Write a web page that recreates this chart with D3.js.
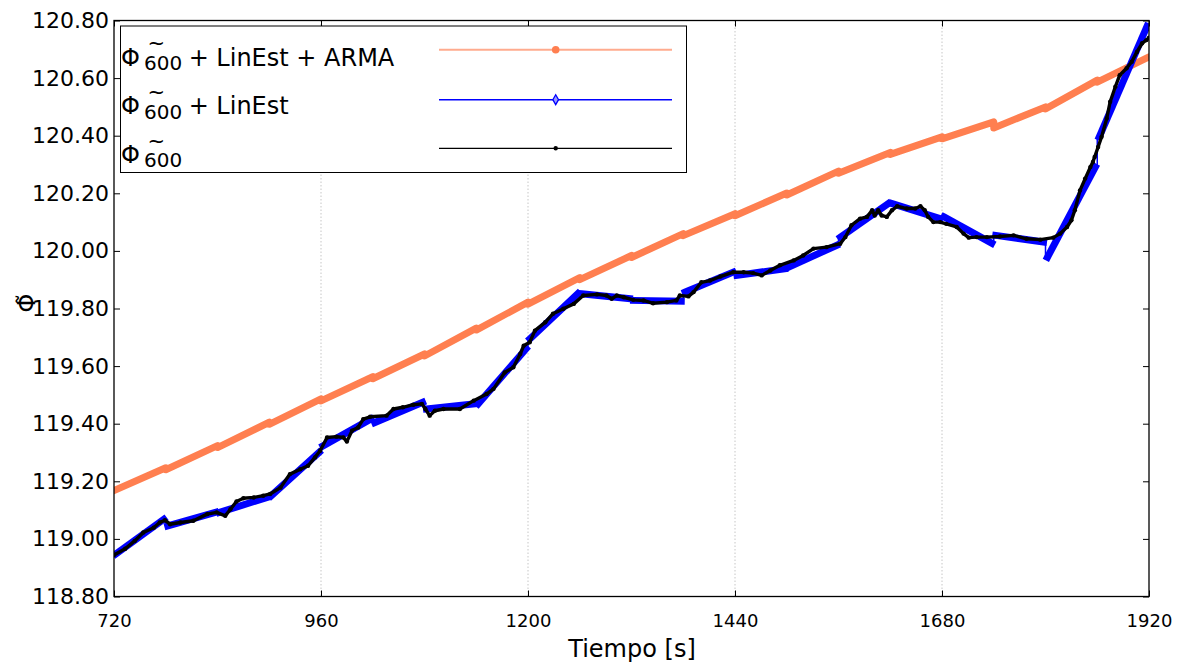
<!DOCTYPE html>
<html lang="en">
<head>
<meta charset="UTF-8">
<title>Phi 600</title>
<script src="https://d3js.org/d3.v7.min.js"></script>
<style>
  body { margin: 0; background: #fff; }
  svg { font-family: "DejaVu Sans", sans-serif; }
  .grid { stroke: #b8b8b8; stroke-width: 0.8; stroke-dasharray: 1.5,2; }
  .tick line { stroke: #000; stroke-width: 1; }
</style>
</head>
<body>
<svg width="1186" height="668"></svg>
<script>
// 60 s windows
const segBounds = [720, 780, 840, 900, 960, 1020, 1080, 1140, 1200, 1260, 1320,
                   1380, 1440, 1500, 1560, 1620, 1680, 1740, 1800, 1860, 1920];

// Phi600 + LinEst + ARMA (value at start / end of each window)
const armaStart = [119.168, 119.240, 119.317, 119.398, 119.479, 119.556, 119.635,
                   119.725, 119.815, 119.900, 119.977, 120.053, 120.122, 120.194,
                   120.270, 120.335, 120.389, 120.427, 120.493, 120.586];
const armaEnd = [119.247, 119.324, 119.405, 119.486, 119.563, 119.642, 119.732,
                 119.822, 119.907, 119.984, 120.060, 120.129, 120.201, 120.277,
                 120.342, 120.396, 120.448, 120.500, 120.593, 120.674];

// Phi600 + LinEst
const linStart = [118.948, 119.045, 119.092, 119.150, 119.323, 119.404, 119.451,
                  119.469, 119.695, 119.851, 119.828, 119.857, 119.915, 119.944,
                  120.048, 120.164, 120.118, 120.054, 119.978, 120.396];
const linEnd = [119.068, 119.092, 119.144, 119.300, 119.416, 119.474, 119.469,
                119.660, 119.851, 119.834, 119.825, 119.926, 119.938, 120.019,
                120.164, 120.112, 120.027, 120.031, 120.291, 120.780];

// Phi600
const phiTime = [720, 733, 744, 754, 766, 773, 779, 785, 797, 812, 828, 839, 849, 855,
  862, 870, 882, 893, 901, 913, 924, 936, 945, 953, 959, 967, 978, 986, 990, 996,
  1003, 1009, 1017, 1036, 1044, 1055, 1067, 1077, 1081, 1086, 1092, 1102, 1121, 1137,
  1152, 1160, 1173, 1183, 1191, 1195, 1202, 1208, 1220, 1229, 1241, 1253, 1264, 1280,
  1291, 1297, 1303, 1311, 1322, 1334, 1345, 1361, 1372, 1376, 1386, 1392, 1401, 1411,
  1423, 1438, 1450, 1461, 1471, 1481, 1492, 1508, 1519, 1531, 1546, 1562, 1568, 1575,
  1585, 1593, 1599, 1602, 1606, 1610, 1616, 1622, 1628, 1639, 1649, 1655, 1660, 1664,
  1670, 1678, 1685, 1697, 1705, 1711, 1720, 1732, 1747, 1763, 1778, 1794, 1809, 1817,
  1825, 1830, 1834, 1840, 1846, 1852, 1855, 1857, 1861, 1865, 1871, 1875, 1881, 1886,
  1894, 1900, 1906, 1912, 1917, 1920];
const phiValue = [118.944, 118.966, 118.993, 119.022, 119.039, 119.057, 119.065, 119.051,
  119.057, 119.063, 119.086, 119.092, 119.080, 119.103, 119.130, 119.141, 119.144, 119.150,
  119.156, 119.178, 119.225, 119.242, 119.254, 119.283, 119.306, 119.352, 119.355, 119.352,
  119.338, 119.376, 119.387, 119.416, 119.424, 119.428, 119.451, 119.457, 119.466, 119.469,
  119.451, 119.428, 119.445, 119.451, 119.451, 119.480, 119.503, 119.521, 119.578, 119.596,
  119.642, 119.671, 119.683, 119.723, 119.752, 119.782, 119.799, 119.816, 119.845, 119.849,
  119.845, 119.834, 119.845, 119.839, 119.830, 119.828, 119.818, 119.822, 119.828, 119.845,
  119.842, 119.857, 119.891, 119.897, 119.911, 119.926, 119.926, 119.923, 119.915, 119.932,
  119.950, 119.967, 119.984, 120.008, 120.013, 120.025, 120.048, 120.089, 120.112, 120.118,
  120.141, 120.123, 120.141, 120.123, 120.118, 120.141, 120.155, 120.147, 120.147, 120.155,
  120.141, 120.118, 120.100, 120.100, 120.094, 120.083, 120.060, 120.046, 120.048, 120.048,
  120.050, 120.054, 120.042, 120.039, 120.046, 120.060, 120.083, 120.106, 120.141, 120.210,
  120.251, 120.291, 120.309, 120.326, 120.361, 120.396, 120.460, 120.518, 120.570, 120.610,
  120.634, 120.657, 120.691, 120.721, 120.732, 120.740];

const xTicks = [720, 960, 1200, 1440, 1680, 1920];
const yTicks = [118.8, 119.0, 119.2, 119.4, 119.6, 119.8, 120.0, 120.2, 120.4, 120.6, 120.8];
const legendLabels = [" + LinEst + ARMA", " + LinEst", ""];

const plotL = 114, plotR = 1149, plotT = 20.5, plotB = 596.5;
const svg = d3.select("svg");

const x = d3.scaleLinear().domain([720, 1920]).range([plotL, plotR]);
const y = d3.scaleLinear().domain([118.8, 120.8]).range([plotB, plotT]);

svg.append("defs").append("clipPath").attr("id", "plotclip")
  .append("rect")
    .attr("x", plotL).attr("y", plotT)
    .attr("width", plotR - plotL).attr("height", plotB - plotT);

// vertical dotted grid
svg.append("g").selectAll("line")
    .data(xTicks.slice(1, -1))
    .enter().append("line")
    .attr("class", "grid")
    .attr("x1", d => x(d)).attr("x2", d => x(d))
    .attr("y1", plotT).attr("y2", plotB);

const plot = svg.append("g").attr("clip-path", "url(#plotclip)");
const line = d3.line().x(d => x(d[0])).y(d => y(d[1]));

// ARMA: sawtooth of 60 s windows
const armaPts = [];
armaStart.forEach((v, i) => {
    armaPts.push([segBounds[i], v]);
    armaPts.push([segBounds[i + 1], armaEnd[i]]);
});
plot.append("path")
    .datum(armaPts)
    .attr("d", line)
    .attr("fill", "none")
    .attr("stroke", "#ff7f50")
    .attr("stroke-width", 7)
    .attr("stroke-linejoin", "round")
    .attr("stroke-linecap", "round");

// LinEst: thin joining line + thick windows
const linPts = [];
linStart.forEach((v, i) => {
    linPts.push([segBounds[i], v]);
    linPts.push([segBounds[i + 1], linEnd[i]]);
});
plot.append("path")
    .datum(linPts)
    .attr("d", line)
    .attr("fill", "none")
    .attr("stroke", "#0000ff")
    .attr("stroke-width", 1.5);

plot.append("g").selectAll("line")
    .data(linStart.map((v, i) => [segBounds[i], v, segBounds[i + 1], linEnd[i]]))
    .enter().append("line")
    .attr("x1", d => x(d[0]) + 2).attr("y1", d => y(d[1]))
    .attr("x2", d => x(d[2]) - 2).attr("y2", d => y(d[3]))
    .attr("stroke", "#0000ff")
    .attr("stroke-width", 7)
    .attr("stroke-linecap", "square");

// Phi600 raw
const phiPts = phiTime.map((t, i) => [t, phiValue[i]]);
plot.append("path")
    .datum(phiPts)
    .attr("d", line)
    .attr("fill", "none")
    .attr("stroke", "#000")
    .attr("stroke-width", 3.4)
    .attr("stroke-linejoin", "round");
plot.append("g").selectAll("circle")
    .data(phiPts)
    .enter().append("circle")
    .attr("cx", d => x(d[0])).attr("cy", d => y(d[1]))
    .attr("r", 2.2)
    .attr("fill", "#000");

// frame
svg.append("rect")
    .attr("x", plotL).attr("y", plotT)
    .attr("width", plotR - plotL).attr("height", plotB - plotT)
    .attr("fill", "none")
    .attr("stroke", "#000")
    .attr("stroke-width", 1.3);

// axes, ticks pointing inwards
const xAxis = svg.append("g")
    .attr("transform", `translate(0,${plotB})`)
    .call(d3.axisBottom(x).tickValues(xTicks).tickSizeInner(-6).tickSizeOuter(0)
        .tickPadding(17.5).tickFormat(d3.format("d")));
xAxis.selectAll("text").attr("font-size", 18).attr("font-family", "DejaVu Sans").attr("fill", "#000");

const yAxis = svg.append("g")
    .attr("transform", `translate(${plotL},0)`)
    .call(d3.axisLeft(y).tickValues(yTicks).tickSizeInner(-6).tickSizeOuter(0)
        .tickPadding(5).tickFormat(d3.format(".2f")));
yAxis.selectAll("text").attr("font-size", 22).attr("font-family", "DejaVu Sans").attr("fill", "#000");

svg.append("g")
    .attr("transform", `translate(0,${plotT})`)
    .call(d3.axisTop(x).tickValues(xTicks).tickSizeInner(-6).tickSizeOuter(0).tickFormat(""));
svg.append("g")
    .attr("transform", `translate(${plotR},0)`)
    .call(d3.axisRight(y).tickValues(yTicks).tickSizeInner(-6).tickSizeOuter(0).tickFormat(""));

svg.selectAll(".domain").remove();

// axis titles
svg.append("text")
    .attr("x", 632).attr("y", 657)
    .attr("text-anchor", "middle")
    .attr("font-size", 24)
    .text("Tiempo [s]");

svg.append("text")
    .attr("transform", "translate(35,303) rotate(-90)")
    .attr("text-anchor", "middle")
    .attr("font-size", 24)
    .text("\u03A6\u0303");

// legend
const legend = svg.append("g");
legend.append("rect")
    .attr("x", 120.5).attr("y", 26)
    .attr("width", 566).attr("height", 146.5)
    .attr("fill", "#fff")
    .attr("stroke", "#000")
    .attr("stroke-width", 1);

const rowBase = [65.7, 114.3, 163];
const rowLine = [49.7, 99.7, 148.3];

legendLabels.forEach((lab, i) => {
    const t = legend.append("text").attr("y", rowBase[i]).attr("font-size", 24).attr("fill", "#000");
    t.append("tspan").attr("x", 121).text("\u03A6");
    t.append("tspan").attr("x", 147.5).attr("dy", -15.5).attr("font-size", 21).text("~");
    t.append("tspan").attr("x", 144).attr("dy", 19.8).attr("font-size", 20).text("600");
    if (lab) t.append("tspan").attr("x", 181).attr("dy", -4.3).text(lab);
});

legend.append("line")
    .attr("x1", 439).attr("x2", 672).attr("y1", rowLine[0]).attr("y2", rowLine[0])
    .attr("stroke", "#ffab8e").attr("stroke-width", 2);
legend.append("circle")
    .attr("cx", 555.7).attr("cy", rowLine[0]).attr("r", 3.8).attr("fill", "#ff7f50");

legend.append("line")
    .attr("x1", 439).attr("x2", 672).attr("y1", rowLine[1]).attr("y2", rowLine[1])
    .attr("stroke", "#0000ff").attr("stroke-width", 1.5);
legend.append("path")
    .attr("d", d3.symbol().type(d3.symbolDiamond).size(28))
    .attr("transform", `translate(555.7,${rowLine[1]})`)
    .attr("fill", "#9a9aff").attr("stroke", "#0000ff").attr("stroke-width", 1.3);

legend.append("line")
    .attr("x1", 439).attr("x2", 672).attr("y1", rowLine[2]).attr("y2", rowLine[2])
    .attr("stroke", "#000").attr("stroke-width", 1.2);
legend.append("circle")
    .attr("cx", 555.7).attr("cy", rowLine[2]).attr("r", 2.2).attr("fill", "#000");
</script>
</body>
</html>
